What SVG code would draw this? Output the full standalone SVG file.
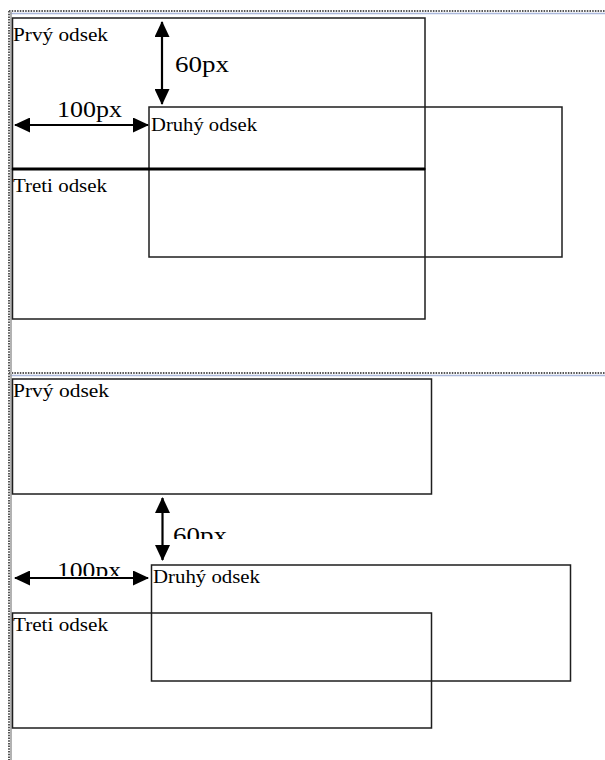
<svg xmlns="http://www.w3.org/2000/svg" width="605" height="760" viewBox="0 0 605 760">
<style>
.box{fill:none;stroke:#1e1e1e;stroke-width:1.5}
.lbl{font-family:"Liberation Serif","Times New Roman",serif;font-size:19px;fill:#000}
.dim{font-family:"Liberation Serif","Times New Roman",serif;font-size:24px;fill:#000}
.arr{stroke:#000;stroke-width:2.2;fill:none;marker-start:url(#ah);marker-end:url(#ah)}
.dot{stroke:#555;stroke-width:2;stroke-dasharray:1.5 1.2;fill:none}
.blue{stroke:#aab8dc;stroke-width:1.5;fill:none}
.gray{stroke:#999;stroke-width:1.5;fill:none}
</style>
<defs>
<marker id="ah" viewBox="0 0 16 15" refX="15" refY="7.5" markerWidth="16" markerHeight="15" markerUnits="userSpaceOnUse" orient="auto-start-reverse">
<polygon points="0,0 16,7.5 0,15" fill="#000"/>
</marker>
<clipPath id="c60"><rect x="150" y="500" width="150" height="39"/></clipPath>
<clipPath id="c100"><rect x="0" y="540" width="150" height="36"/></clipPath>
</defs>
<rect width="605" height="760" fill="#fff"/>
<g id="frame">
<line class="blue" x1="10" y1="13.5" x2="605" y2="13.5"/>
<line class="dot" x1="9" y1="11" x2="605" y2="11"/>
<line class="gray" x1="11" y1="12" x2="11" y2="372"/>
<line class="dot" x1="9" y1="11" x2="9" y2="372"/>
<line class="blue" x1="10" y1="375.5" x2="605" y2="375.5"/>
<line class="dot" x1="9" y1="373" x2="605" y2="373"/>
<line class="gray" x1="11" y1="374" x2="11" y2="760"/>
<line class="dot" x1="9" y1="373" x2="9" y2="760"/>
</g>
<g id="top-prvy">
<rect class="box" x="12.5" y="18" width="412.5" height="151"/>
<text class="lbl" x="13" y="41" textLength="95" lengthAdjust="spacingAndGlyphs">Prvý odsek</text>
</g>
<g id="top-druhy">
<rect class="box" x="149" y="107" width="413" height="150"/>
<text class="lbl" x="151" y="131" textLength="106" lengthAdjust="spacingAndGlyphs">Druhý odsek</text>
</g>
<g id="top-treti">
<rect class="box" x="12.5" y="169" width="412.5" height="150"/>
<line x1="12" y1="169" x2="425" y2="169" stroke="#000" stroke-width="3"/>
<text class="lbl" x="13" y="192" textLength="94" lengthAdjust="spacingAndGlyphs">Treti odsek</text>
</g>
<g id="bot-prvy">
<rect class="box" x="12.5" y="379" width="419" height="115"/>
<text class="lbl" x="13" y="397" textLength="96" lengthAdjust="spacingAndGlyphs">Prvý odsek</text>
</g>
<g id="bot-druhy">
<rect class="box" x="151.5" y="565" width="419" height="116"/>
<text class="lbl" x="153" y="583" textLength="107" lengthAdjust="spacingAndGlyphs">Druhý odsek</text>
</g>
<g id="bot-treti">
<rect class="box" x="12.5" y="613" width="419" height="115"/>
<text class="lbl" x="13" y="631" textLength="95" lengthAdjust="spacingAndGlyphs">Treti odsek</text>
</g>
<g id="connectors">
<line class="arr" x1="162" y1="22" x2="162" y2="104"/>
<line class="arr" x1="15" y1="125" x2="148" y2="125"/>
<line class="arr" x1="162.5" y1="498" x2="162.5" y2="560"/>
<line class="arr" x1="15" y1="578" x2="148" y2="578"/>
</g>
<g id="dimension-labels">
<text class="dim" x="175" y="72" textLength="54" lengthAdjust="spacingAndGlyphs">60px</text>
<text class="dim" x="57" y="117" textLength="65" lengthAdjust="spacingAndGlyphs">100px</text>
<text class="dim" x="173" y="543" textLength="54" lengthAdjust="spacingAndGlyphs" clip-path="url(#c60)">60px</text>
<text class="dim" x="57" y="578" textLength="64" lengthAdjust="spacingAndGlyphs" clip-path="url(#c100)">100px</text>
</g>
</svg>
